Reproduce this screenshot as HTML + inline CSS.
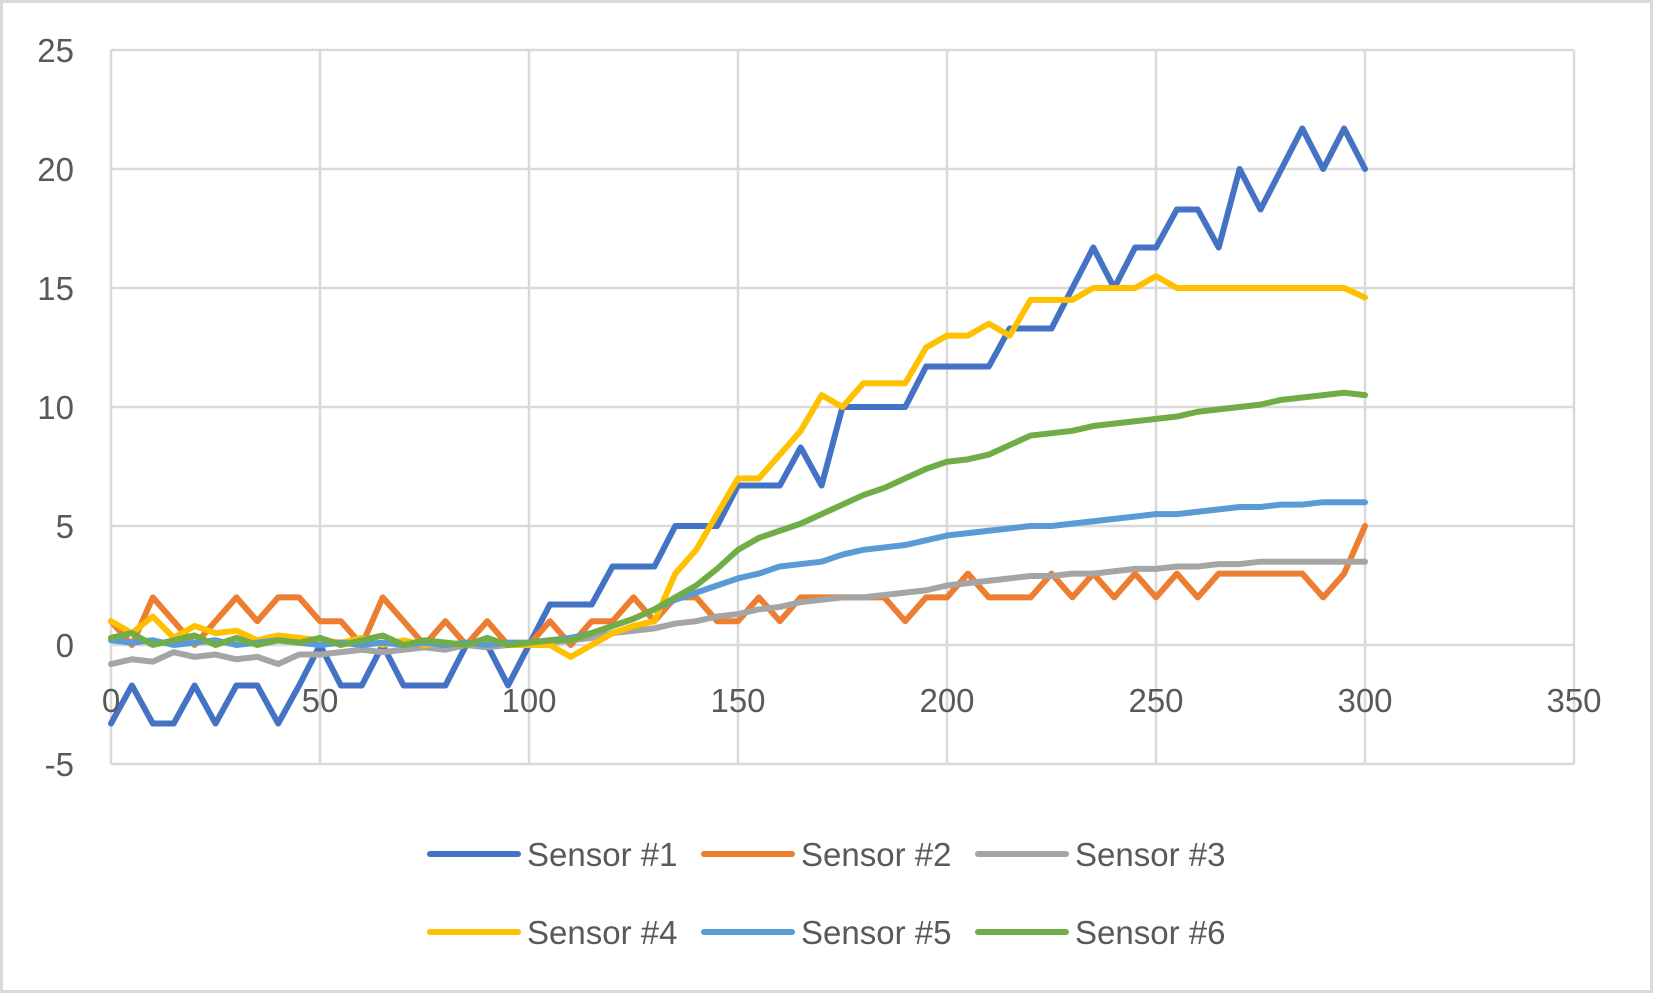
<!DOCTYPE html>
<html><head><meta charset="utf-8"><style>
html,body{margin:0;padding:0;background:#fff}
svg{display:block;font-family:"Liberation Sans",sans-serif}
</style></head><body>
<svg id="chart" width="1653" height="993" viewBox="0 0 1653 993">
<rect x="1.5" y="1.5" width="1650" height="990" fill="#fff" stroke="#d9d9d9" stroke-width="3"/>
<g id="grid"></g><g id="series"></g><g id="labels"></g><g id="legend"></g>
</svg>
<script>
const xs = [0,5,10,15,20,25,30,35,40,45,50,55,60,65,70,75,80,85,90,95,100,105,110,115,120,125,130,135,140,145,150,155,160,165,170,175,180,185,190,195,200,205,210,215,220,225,230,235,240,245,250,255,260,265,270,275,280,285,290,295,300];
const s1 = [-3.3,-1.7,-3.3,-3.3,-1.7,-3.3,-1.7,-1.7,-3.3,-1.7,0,-1.7,-1.7,0,-1.7,-1.7,-1.7,0,0,-1.7,0,1.7,1.7,1.7,3.3,3.3,3.3,5,5,5,6.7,6.7,6.7,8.3,6.7,10,10,10,10,11.7,11.7,11.7,11.7,13.3,13.3,13.3,15,16.7,15,16.7,16.7,18.3,18.3,16.7,20,18.3,20,21.7,20,21.7,20];
const s2 = [1,0,2,1,0,1,2,1,2,2,1,1,0,2,1,0,1,0,1,0,0,1,0,1,1,2,1,2,2,1,1,2,1,2,2,2,2,2,1,2,2,3,2,2,2,3,2,3,2,3,2,3,2,3,3,3,3,3,2,3,5];
const s3 = [-0.8,-0.6,-0.7,-0.3,-0.5,-0.4,-0.6,-0.5,-0.8,-0.4,-0.4,-0.3,-0.2,-0.3,-0.2,-0.1,-0.2,0,-0.1,0,0,0.1,0.2,0.3,0.5,0.6,0.7,0.9,1,1.2,1.3,1.5,1.6,1.8,1.9,2,2,2.1,2.2,2.3,2.5,2.6,2.7,2.8,2.9,2.9,3,3,3.1,3.2,3.2,3.3,3.3,3.4,3.4,3.5,3.5,3.5,3.5,3.5,3.5];
const s4 = [1,0.5,1.2,0.3,0.8,0.5,0.6,0.2,0.4,0.3,0.2,0.1,0.3,0,0.2,0,0.1,0,0.2,0,0,0,-0.5,0,0.5,0.8,1,3,4,5.5,7,7,8,9,10.5,10,11,11,11,12.5,13,13,13.5,13,14.5,14.5,14.5,15,15,15,15.5,15,15,15,15,15,15,15,15,15,14.6];
const s5 = [0.2,0.1,0.2,0,0.1,0.2,0,0.1,0.2,0.1,0,0.1,0,0.1,0,0.1,0,0.1,0,0.1,0.1,0.2,0.3,0.5,0.8,1.1,1.5,1.9,2.2,2.5,2.8,3,3.3,3.4,3.5,3.8,4,4.1,4.2,4.4,4.6,4.7,4.8,4.9,5,5,5.1,5.2,5.3,5.4,5.5,5.5,5.6,5.7,5.8,5.8,5.9,5.9,6,6,6];
const s6 = [0.3,0.5,0,0.2,0.4,0,0.3,0,0.2,0.1,0.3,0,0.2,0.4,0,0.2,0.1,0,0.3,0,0.1,0.2,0.2,0.5,0.8,1.1,1.5,2,2.5,3.2,4,4.5,4.8,5.1,5.5,5.9,6.3,6.6,7,7.4,7.7,7.8,8,8.4,8.8,8.9,9,9.2,9.3,9.4,9.5,9.6,9.8,9.9,10,10.1,10.3,10.4,10.5,10.6,10.5];
const yTicks = ["-5","0","5","10","15","20","25"];
const xTicks = ["0","50","100","150","200","250","300","350"];
const names = ["Sensor #1","Sensor #2","Sensor #3","Sensor #4","Sensor #5","Sensor #6"];
const colors = ["#4472c4","#ed7d31","#a5a5a5","#ffc000","#5b9bd5","#70ad47"];
const NS="http://www.w3.org/2000/svg";
const L=111,R=1574,T=50,B=764;
const sx=v=>L+(v/350)*(R-L);
const sy=v=>B-((v+5)/30)*(B-T);
function mk(tag,attrs,parent){const e=document.createElementNS(NS,tag);for(const k in attrs)e.setAttribute(k,attrs[k]);parent.appendChild(e);return e;}
const grid=document.getElementById('grid'),lab=document.getElementById('labels'),ser=document.getElementById('series'),leg=document.getElementById('legend');
yTicks.forEach(t=>{const v=+t;
 const ln=mk('line',{x1:L,x2:R,y1:sy(v),y2:sy(v),stroke:'#d9d9d9','stroke-width':2.5},grid);
 
 
 const tx=mk('text',{x:74,y:sy(v)+12,'text-anchor':'end','font-size':33,fill:'#595959'},lab);tx.textContent=t;
 
 
});
xTicks.forEach(t=>{const v=+t;
 const ln=mk('line',{x1:sx(v),x2:sx(v),y1:T,y2:B,stroke:'#d9d9d9','stroke-width':2.5},grid);
 
 
 const tx=mk('text',{x:sx(v),y:sy(0)+67,'text-anchor':'middle','font-size':33,fill:'#595959'},lab);tx.textContent=t;
 
 
});
[s1,s2,s3,s4,s5,s6].forEach((s,i)=>{
 const pts=s.map((v,j)=>sx(xs[j])+','+sy(v)).join(' ');
 const pl=mk('polyline',{points:pts,fill:'none',stroke:colors[i],'stroke-width':6,'stroke-linejoin':'round','stroke-linecap':'round'},ser);
 
 
});
const lx=[430,704,978],ly=[854,932];
names.forEach((n,i)=>{
 const x=lx[i%3],y=ly[Math.floor(i/3)];
 const g=mk('g',{},leg);
 
 
 mk('line',{x1:x,x2:x+88,y1:y,y2:y,stroke:colors[i],'stroke-width':6,'stroke-linecap':'round'},g);
 const tx=mk('text',{x:x+97,y:y+12,'font-size':33,fill:'#595959'},g);tx.textContent=n;
});
</script>
</body></html>
